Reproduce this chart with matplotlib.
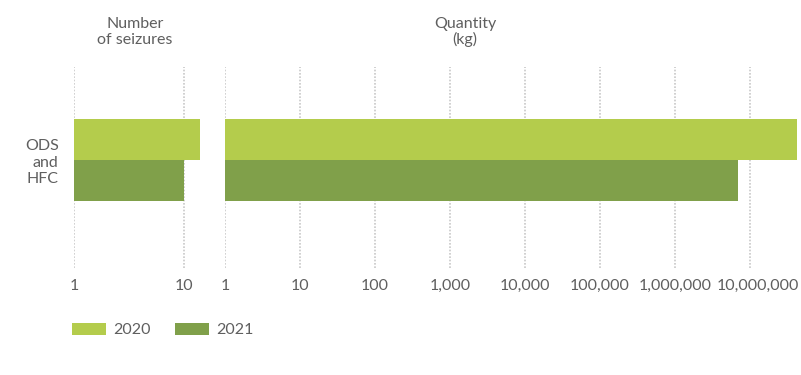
import matplotlib.pyplot as plt
from matplotlib.patches import Patch
from matplotlib.ticker import FixedLocator, FuncFormatter, NullLocator
from matplotlib.transforms import ScaledTranslation

plt.rcParams['font.family'] = ['Lato', 'DejaVu Sans']

category = "ODS\nand\nHFC"
years = ["2020", "2021"]
seizures = [14, 10]
quantity_kg = [42000000, 6900000]
colors = ["#b4cc4c", "#80a04a"]
grey = "#5f5f5f"
fs = 11.5

fig = plt.figure(figsize=(8.01, 3.75), dpi=100)
ax_l = fig.add_axes([74 / 801, 1 - 268 / 375, 131 / 801, 201 / 375])
ax_r = fig.add_axes([225 / 801, 1 - 268 / 375, 572 / 801, 201 / 375])

offsets = [0.205, -0.205]


def style(ax, ticks, xmax):
    ax.set_xscale("log")
    ax.set_xlim(1, xmax)
    ax.set_ylim(-1.08, 0.93)
    ax.xaxis.set_major_locator(FixedLocator(ticks))
    ax.xaxis.set_minor_locator(NullLocator())
    ax.xaxis.set_major_formatter(FuncFormatter(lambda v, p: f"{v:,.0f}"))
    ax.set_yticks([])
    for s in ax.spines.values():
        s.set_visible(False)
    ax.tick_params(axis="x", length=0, pad=8, labelsize=fs, labelcolor=grey)
    ax.grid(axis="x", color="#c8c8c8", linestyle=(0, (1, 1)), linewidth=1.2)
    ax.set_axisbelow(True)


# bars start at 1 on the log axis
for vals, ax in [(seizures, ax_l), (quantity_kg, ax_r)]:
    for v, off, c in zip(vals, offsets, colors):
        ax.barh(off, v - 1, height=0.41, color=c, left=1, zorder=3)

style(ax_l, [1, 10], 10 ** (131 / 110))
style(ax_r, [10 ** i for i in range(8)], 10 ** (572 / 75))

# last label is nudged right so it does not touch its neighbour
fig.canvas.draw()
last = ax_r.get_xticklabels()[-1]
last.set_transform(last.get_transform() + ScaledTranslation(8 / 100, 0, fig.dpi_scale_trans))

ax_l.set_yticks([0])
ax_l.set_yticklabels([category], fontsize=fs, color=grey, ha="right",
                     multialignment="right")
ax_l.tick_params(axis="y", length=0, pad=11)

fig.text(135 / 801, 1 - 32 / 375, "Number\nof seizures", ha="center",
         va="center", fontsize=fs, color=grey, linespacing=1.1)
fig.text(465 / 801, 1 - 32 / 375, "Quantity\n(kg)", ha="center",
         va="center", fontsize=fs, color=grey, linespacing=1.1)

handles = [Patch(facecolor=c, label=y) for c, y in zip(colors, years)]
fig.legend(handles=handles, loc="center left",
           bbox_to_anchor=(58 / 801, 1 - 330 / 375), ncol=2, frameon=False,
           fontsize=fs, labelcolor=grey, handlelength=2.1, handleheight=0.85,
           handletextpad=0.45, columnspacing=1.55)

fig.savefig("out.png", dpi=100)
